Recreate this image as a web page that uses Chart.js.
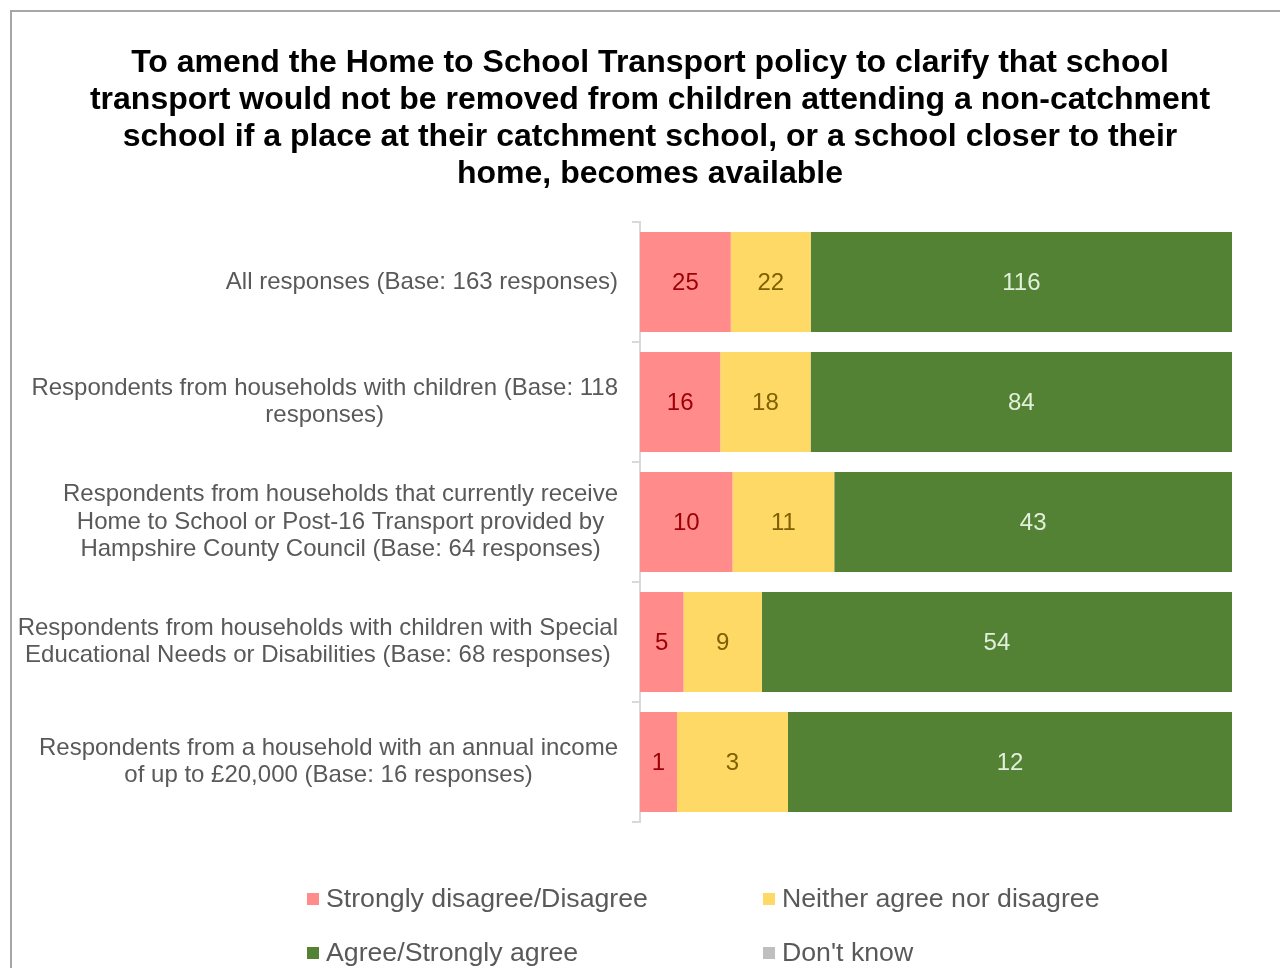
<!DOCTYPE html>
<html>
<head>
<meta charset="utf-8">
<script src="https://cdn.jsdelivr.net/npm/chart.js@4"></script>
<style>
  html, body { margin: 0; padding: 0; background: #fff; overflow: hidden; }
  #wrap { position: absolute; left: 0; top: 0; width: 1280px; height: 968px; }
</style>
</head>
<body>
<div id="wrap"><canvas id="myChart"></canvas></div>
<script>
const FONT = "'Liberation Sans', Arial, sans-serif";

const titleLines = [
	'To amend the Home to School Transport policy to clarify that school',
	'transport would not be removed from children attending a non-catchment',
	'school if a place at their catchment school, or a school closer to their',
	'home, becomes available'
];

const categories = [
	['All responses (Base: 163 responses)'],
	['Respondents from households with children (Base: 118', 'responses)'],
	['Respondents from households that currently receive', 'Home to School or Post-16 Transport provided by', 'Hampshire County Council (Base: 64 responses)'],
	['Respondents from households with children with Special', 'Educational Needs or Disabilities (Base: 68 responses)'],
	['Respondents from a household with an annual income', 'of up to £20,000 (Base: 16 responses)']
];

const seriesNames = ['Strongly disagree/Disagree', 'Neither agree nor disagree', 'Agree/Strongly agree', "Don't know"];

// counts of responses per group
const disagree = [25, 16, 10, 5, 1];
const neither = [22, 18, 11, 9, 3];
const agree = [116, 84, 43, 54, 12];
const dontKnow = [0, 0, 0, 0, 0];

const fills = ['#FF8B8B', '#FFD966', '#548235', '#BFBFBF'];
const labelColors = ['#9C0006', '#7F6000', '#E2EFDA', '#404040'];

const counts = [disagree, neither, agree, dontKnow];
const totals = categories.map((c, i) => counts.reduce((s, arr) => s + arr[i], 0));

function share(arr){
	return arr.map((v, i) => v / totals[i] * 100);
}

const framePlugin = {
	id: 'frame',
	afterLayout(chart){
		// title sits centred over the whole frame, not the padded area
		chart.titleBlock.left = 20;
		chart.titleBlock.right = 1280;
	},
	beforeDraw(chart){
		const c = chart.ctx;
		c.save();
		c.strokeStyle = '#A6A6A6';
		c.lineWidth = 2;
		c.strokeRect(11, 11, 1400, 1400);
		c.restore();
	}
};

// category labels: block right-aligned to the axis, lines centred inside the block
const categoryLabels = {
	id: 'categoryLabels',
	afterDraw(chart){
		const c = chart.ctx;
		const y = chart.scales.y;
		const right = y.right - 22;
		const lh = 27.6;
		c.save();
		c.font = '24px ' + FONT;
		c.fillStyle = '#595959';
		c.textAlign = 'center';
		c.textBaseline = 'middle';
		categories.forEach((lines, i) => {
			const w = Math.max(...lines.map(l => c.measureText(l).width));
			const cy = y.getPixelForTick(i);
			lines.forEach((l, k) => {
				c.fillText(l, right - w / 2, cy + (k - (lines.length - 1) / 2) * lh);
			});
		});
		c.restore();
	}
};

const valueLabels = {
	id: 'valueLabels',
	afterDatasetsDraw(chart){
		const c = chart.ctx;
		c.save();
		c.font = '24px ' + FONT;
		c.textAlign = 'center';
		c.textBaseline = 'middle';
		chart.data.datasets.forEach((ds, di) => {
			chart.getDatasetMeta(di).data.forEach((bar, i) => {
				const n = counts[di][i];
				if (!n) return;
				c.fillStyle = labelColors[di];
				c.fillText(String(n), (bar.x + bar.base) / 2, bar.y + 1);
			});
		});
		c.restore();
	}
};

const gridLegend = {
	id: 'gridLegend',
	afterDraw(chart){
		const c = chart.ctx;
		const cols = [307, 763];
		const rows = [899, 953];
		c.save();
		c.font = '26.7px ' + FONT;
		c.textBaseline = 'middle';
		c.textAlign = 'left';
		chart.data.datasets.forEach((ds, i) => {
			const x = cols[i % 2];
			const y = rows[Math.floor(i / 2)];
			c.fillStyle = ds.backgroundColor;
			c.fillRect(x, y - 6, 12, 12);
			c.fillStyle = '#595959';
			c.fillText(ds.label, x + 19, y + 1);
		});
		c.restore();
	}
};

new Chart(document.getElementById('myChart').getContext('2d'), {
	type: 'bar',
	data: {
		labels: categories,
		datasets: counts.map((arr, i) => ({
			label: seriesNames[i],
			data: share(arr),
			backgroundColor: fills[i],
			borderWidth: 0,
			barPercentage: 0.833,
			categoryPercentage: 1
		}))
	},
	options: {
		indexAxis: 'y',
		responsive: true,
		maintainAspectRatio: false,
		animation: false,
		layout: { padding: { left: 12, right: 48, top: 10, bottom: 146 } },
		scales: {
			x: { stacked: true, min: 0, max: 100, display: false },
			y: {
				stacked: true,
				afterFit(scale){ scale.width = 628; },
				border: { display: true, color: '#D9D9D9', width: 2 },
				grid: { drawOnChartArea: false, drawTicks: true, tickLength: 8, color: '#D9D9D9', lineWidth: 2 },
				ticks: { display: false }
			}
		},
		plugins: {
			legend: { display: false },
			tooltip: { enabled: false },
			title: {
				display: true,
				text: titleLines,
				color: '#000',
				font: { family: FONT, size: 32, weight: 'bold', lineHeight: 1.156 },
				padding: { top: 35, bottom: 29 }
			}
		}
	},
	plugins: [framePlugin, categoryLabels, valueLabels, gridLegend]
});
</script>
</body>
</html>
